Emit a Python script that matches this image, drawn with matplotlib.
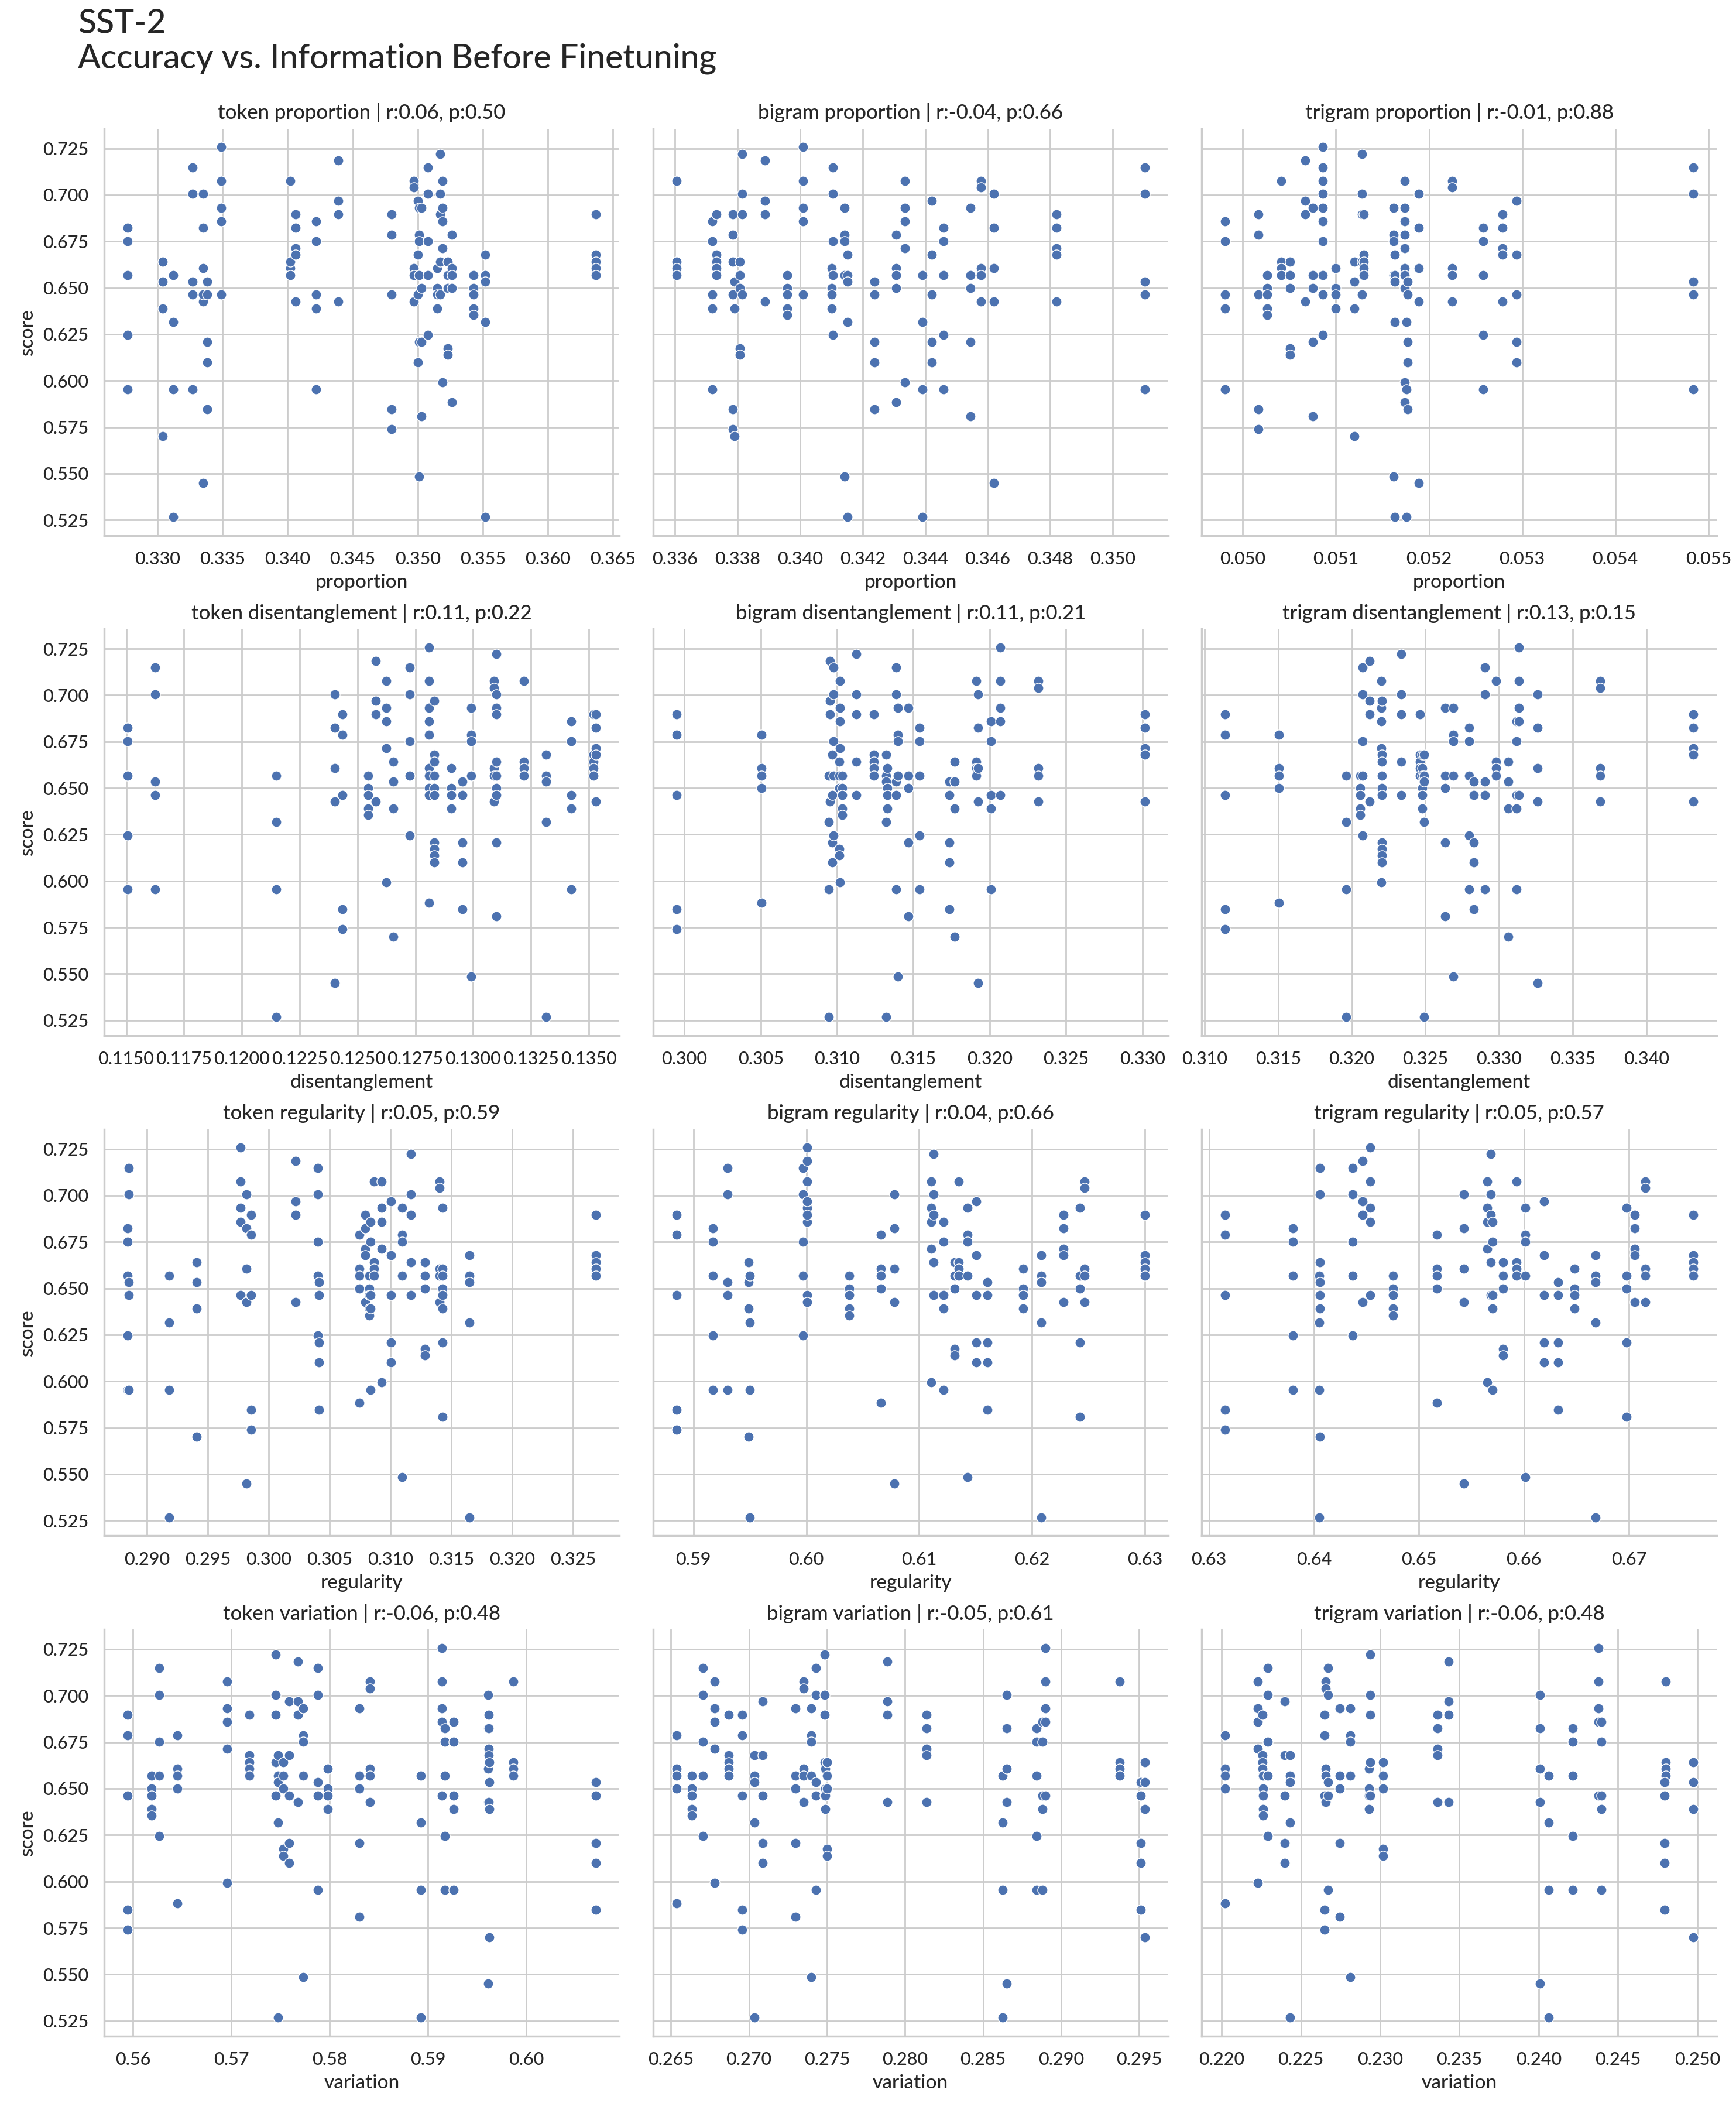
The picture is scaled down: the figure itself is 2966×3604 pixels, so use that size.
import matplotlib
matplotlib.use("Agg")
import matplotlib.pyplot as plt
import seaborn as sns

# columns of points: (x value, [scores at that x])
tok_prop = [
    (0.3277, [0.6824, 0.6752, 0.6568, 0.6246, 0.5954]),
    (0.3304, [0.6641, 0.6534, 0.6390, 0.5701]),
    (0.3312, [0.6568, 0.6317, 0.5954, 0.5267]),
    (0.3327, [0.7149, 0.7005, 0.6534, 0.6463, 0.5954]),
    (0.3335, [0.7005, 0.6824, 0.6606, 0.6427, 0.6463, 0.5450]),
    (0.3338, [0.6534, 0.6463, 0.6208, 0.6100, 0.5847]),
    (0.3349, [0.7257, 0.7076, 0.6932, 0.6859, 0.6463]),
    (0.3402, [0.7076, 0.6606, 0.6641, 0.6568]),
    (0.3406, [0.6897, 0.6824, 0.6714, 0.6679, 0.6427]),
    (0.3422, [0.6859, 0.6752, 0.6463, 0.6390, 0.5954]),
    (0.3439, [0.7185, 0.6969, 0.6897, 0.6427]),
    (0.3480, [0.6897, 0.6787, 0.6463, 0.5847, 0.5740]),
    (0.3497, [0.7076, 0.7040, 0.6606, 0.6568, 0.6427]),
    (0.3500, [0.6969, 0.6679, 0.6463, 0.6100]),
    (0.3501, [0.6932, 0.6787, 0.6752, 0.6568, 0.5485, 0.6208]),
    (0.3503, [0.6932, 0.6499, 0.6208, 0.5810]),
    (0.3508, [0.7149, 0.7005, 0.6752, 0.6568, 0.6246]),
    (0.3515, [0.6606, 0.6499, 0.6463, 0.6390]),
    (0.3517, [0.7222, 0.7005, 0.6897, 0.6641, 0.6463]),
    (0.3519, [0.7076, 0.6932, 0.6859, 0.6714, 0.5993]),
    (0.3523, [0.6641, 0.6568, 0.6499, 0.6174, 0.6139]),
    (0.3526, [0.6787, 0.6606, 0.6568, 0.6499, 0.5883]),
    (0.3543, [0.6568, 0.6499, 0.6463, 0.6390, 0.6354]),
    (0.3552, [0.6679, 0.6568, 0.6534, 0.6317, 0.5267]),
    (0.3637, [0.6897, 0.6679, 0.6641, 0.6606, 0.6568]),
]

bi_prop = [
    (0.33604, [0.7076, 0.6641, 0.6606, 0.6568]),
    (0.33720, [0.6859, 0.6752, 0.6463, 0.6390, 0.5954]),
    (0.33732, [0.6897, 0.6679, 0.6641, 0.6606, 0.6568]),
    (0.33785, [0.6897, 0.6787, 0.6641, 0.6463, 0.5847, 0.5740]),
    (0.33791, [0.6534, 0.6390, 0.5701]),
    (0.33807, [0.6641, 0.6568, 0.6499, 0.6174, 0.6139]),
    (0.33814, [0.7222, 0.7005, 0.6897, 0.6463]),
    (0.33888, [0.7185, 0.6969, 0.6897, 0.6427]),
    (0.33959, [0.6568, 0.6499, 0.6463, 0.6390, 0.6354]),
    (0.34010, [0.7257, 0.7076, 0.6932, 0.6859, 0.6463]),
    (0.34100, [0.6606, 0.6499, 0.6463, 0.6390]),
    (0.34105, [0.7149, 0.7005, 0.6752, 0.6568, 0.6246]),
    (0.34142, [0.6932, 0.6787, 0.6752, 0.6568, 0.5485]),
    (0.34152, [0.6679, 0.6568, 0.6534, 0.6317, 0.5267]),
    (0.34237, [0.6534, 0.6463, 0.6208, 0.6100, 0.5847]),
    (0.34307, [0.6787, 0.6606, 0.6568, 0.6499, 0.5883]),
    (0.34334, [0.7076, 0.6932, 0.6859, 0.6714, 0.5993]),
    (0.34391, [0.6568, 0.6317, 0.5954, 0.5267]),
    (0.34421, [0.6969, 0.6679, 0.6463, 0.6208, 0.6100]),
    (0.34459, [0.6824, 0.6752, 0.6568, 0.6246, 0.5954]),
    (0.34545, [0.6932, 0.6568, 0.6499, 0.6208, 0.5810]),
    (0.34579, [0.7076, 0.7040, 0.6606, 0.6568, 0.6427]),
    (0.34620, [0.7005, 0.6824, 0.6606, 0.6427, 0.5450]),
    (0.34819, [0.6897, 0.6824, 0.6714, 0.6679, 0.6427]),
    (0.35102, [0.7149, 0.7005, 0.6534, 0.6463, 0.5954]),
]

tri_prop = [
    (0.04981, [0.6859, 0.6752, 0.6463, 0.6390, 0.5954]),
    (0.05017, [0.6897, 0.6787, 0.6463, 0.5847, 0.5740]),
    (0.05026, [0.6568, 0.6499, 0.6463, 0.6390, 0.6354]),
    (0.05041, [0.7076, 0.6641, 0.6606, 0.6568]),
    (0.05051, [0.6641, 0.6568, 0.6499, 0.6174, 0.6139]),
    (0.05067, [0.7185, 0.6969, 0.6897, 0.6427]),
    (0.05075, [0.6932, 0.6568, 0.6499, 0.6208, 0.5810]),
    (0.05086, [0.7257, 0.7149, 0.7076, 0.7005, 0.6932, 0.6859, 0.6752, 0.6568, 0.6463, 0.6246]),
    (0.05100, [0.6606, 0.6499, 0.6463, 0.6390]),
    (0.05120, [0.6641, 0.6534, 0.6390, 0.5701]),
    (0.05128, [0.7222, 0.7005, 0.6897, 0.6641, 0.6463]),
    (0.05130, [0.6897, 0.6679, 0.6641, 0.6606, 0.6568]),
    (0.05162, [0.6932, 0.6787, 0.6752, 0.6568, 0.5485]),
    (0.05163, [0.6679, 0.6568, 0.6534, 0.6317, 0.5267]),
    (0.05174, [0.7076, 0.6932, 0.6859, 0.6787, 0.6714, 0.6606, 0.6568, 0.6499, 0.5993, 0.5883]),
    (0.05176, [0.6317, 0.5954, 0.5267]),
    (0.05177, [0.6534, 0.6463, 0.6208, 0.6100, 0.5847]),
    (0.05189, [0.7005, 0.6824, 0.6606, 0.6427, 0.5450]),
    (0.05225, [0.7076, 0.7040, 0.6606, 0.6568, 0.6427]),
    (0.05258, [0.6824, 0.6752, 0.6568, 0.6246, 0.5954]),
    (0.05279, [0.6897, 0.6824, 0.6714, 0.6679, 0.6427]),
    (0.05294, [0.6969, 0.6679, 0.6463, 0.6208, 0.6100]),
    (0.05484, [0.7149, 0.7005, 0.6534, 0.6463, 0.5954]),
]

tok_dis = [
    (0.11506, [0.6824, 0.6752, 0.6568, 0.6246, 0.5954]),
    (0.11625, [0.7149, 0.7005, 0.6534, 0.6463, 0.5954]),
    (0.12149, [0.6568, 0.6317, 0.5954, 0.5267]),
    (0.12401, [0.7005, 0.6824, 0.6606, 0.6427, 0.5450]),
    (0.12434, [0.6897, 0.6787, 0.6463, 0.5847, 0.5740]),
    (0.12545, [0.6568, 0.6499, 0.6463, 0.6390, 0.6354]),
    (0.12579, [0.7185, 0.6969, 0.6897, 0.6427]),
    (0.12624, [0.7076, 0.6932, 0.6859, 0.6714, 0.5993]),
    (0.12655, [0.6641, 0.6534, 0.6390, 0.5701]),
    (0.12726, [0.7149, 0.7005, 0.6752, 0.6568, 0.6246]),
    (0.12808, [0.7257, 0.7076, 0.6932, 0.6859, 0.6787, 0.6606, 0.6568, 0.6499, 0.6463, 0.5883]),
    (0.12832, [0.6969, 0.6679, 0.6641, 0.6568, 0.6499, 0.6463, 0.6208, 0.6174, 0.6139, 0.6100]),
    (0.12906, [0.6606, 0.6499, 0.6463, 0.6390]),
    (0.12954, [0.6534, 0.6463, 0.6208, 0.6100, 0.5847]),
    (0.12991, [0.6932, 0.6787, 0.6752, 0.6568, 0.5485]),
    (0.13091, [0.7076, 0.7040, 0.6606, 0.6568, 0.6427]),
    (0.13101, [0.7222, 0.7005, 0.6932, 0.6897, 0.6641, 0.6568, 0.6499, 0.6463, 0.6208, 0.5810]),
    (0.13218, [0.7076, 0.6641, 0.6606, 0.6568]),
    (0.13316, [0.6679, 0.6568, 0.6534, 0.6317, 0.5267]),
    (0.13423, [0.6859, 0.6752, 0.6463, 0.6390, 0.5954]),
    (0.13520, [0.6897, 0.6679, 0.6641, 0.6606, 0.6568]),
    (0.13531, [0.6897, 0.6824, 0.6714, 0.6679, 0.6427]),
]

bi_dis = [
    (0.29947, [0.6897, 0.6787, 0.6463, 0.5847, 0.5740]),
    (0.30506, [0.6787, 0.6606, 0.6568, 0.6499, 0.5883]),
    (0.30945, [0.6568, 0.6317, 0.5954, 0.5267]),
    (0.30954, [0.7185, 0.6969, 0.6897, 0.6427]),
    (0.30970, [0.6679, 0.6463, 0.6208, 0.6100]),
    (0.30975, [0.7149, 0.7005, 0.6752, 0.6568, 0.6246]),
    (0.31020, [0.7076, 0.6932, 0.6859, 0.6714, 0.5993]),
    (0.31014, [0.6641, 0.6568, 0.6499, 0.6174, 0.6139]),
    (0.31036, [0.6568, 0.6499, 0.6463, 0.6390, 0.6354]),
    (0.31126, [0.7222, 0.7005, 0.6897, 0.6641, 0.6463]),
    (0.31242, [0.6897, 0.6679, 0.6641, 0.6606, 0.6568]),
    (0.31320, [0.6679, 0.6568, 0.6534, 0.6317, 0.5267]),
    (0.31329, [0.6606, 0.6499, 0.6463, 0.6390]),
    (0.31387, [0.7149, 0.7005, 0.6534, 0.6463, 0.5954]),
    (0.31398, [0.6932, 0.6787, 0.6752, 0.6568, 0.5485]),
    (0.31469, [0.6932, 0.6568, 0.6499, 0.6208, 0.5810]),
    (0.31542, [0.6824, 0.6752, 0.6568, 0.6246, 0.5954]),
    (0.31737, [0.6534, 0.6463, 0.6208, 0.6100, 0.5847]),
    (0.31771, [0.6641, 0.6534, 0.6390, 0.5701]),
    (0.31913, [0.7076, 0.6641, 0.6606, 0.6568]),
    (0.31922, [0.7005, 0.6824, 0.6606, 0.6427, 0.5450]),
    (0.32007, [0.6859, 0.6752, 0.6463, 0.6390, 0.5954]),
    (0.32071, [0.7257, 0.7076, 0.6932, 0.6859, 0.6463]),
    (0.32318, [0.7076, 0.7040, 0.6606, 0.6568, 0.6427]),
    (0.33016, [0.6897, 0.6824, 0.6714, 0.6679, 0.6427]),
]

tri_dis = [
    (0.31139, [0.6897, 0.6787, 0.6463, 0.5847, 0.5740]),
    (0.31505, [0.6787, 0.6606, 0.6568, 0.6499, 0.5883]),
    (0.31963, [0.6568, 0.6317, 0.5954, 0.5267]),
    (0.32056, [0.6568, 0.6499, 0.6463, 0.6390, 0.6354]),
    (0.32072, [0.7149, 0.7005, 0.6752, 0.6568, 0.6246]),
    (0.32120, [0.7185, 0.6969, 0.6897, 0.6427]),
    (0.32200, [0.7076, 0.6932, 0.6859, 0.6714, 0.5993]),
    (0.32205, [0.6969, 0.6679, 0.6641, 0.6568, 0.6499, 0.6463, 0.6208, 0.6174, 0.6139, 0.6100]),
    (0.32336, [0.7222, 0.7005, 0.6897, 0.6641, 0.6463]),
    (0.32461, [0.6897, 0.6679, 0.6641, 0.6606, 0.6568]),
    (0.32480, [0.6679, 0.6606, 0.6568, 0.6499, 0.6463, 0.6390]),
    (0.32490, [0.6679, 0.6568, 0.6534, 0.6317, 0.5267]),
    (0.32635, [0.6932, 0.6568, 0.6499, 0.6208, 0.5810]),
    (0.32687, [0.6932, 0.6787, 0.6752, 0.6568, 0.5485]),
    (0.32796, [0.6824, 0.6752, 0.6568, 0.6246, 0.5954]),
    (0.32830, [0.6534, 0.6463, 0.6208, 0.6100, 0.5847]),
    (0.32905, [0.7149, 0.7005, 0.6534, 0.6463, 0.5954]),
    (0.32979, [0.7076, 0.6641, 0.6606, 0.6568]),
    (0.33064, [0.6641, 0.6534, 0.6390, 0.5701]),
    (0.33117, [0.6859, 0.6752, 0.6463, 0.6390, 0.5954]),
    (0.33136, [0.7257, 0.7076, 0.6932, 0.6859, 0.6463]),
    (0.33261, [0.7005, 0.6824, 0.6606, 0.6427, 0.5450]),
    (0.33686, [0.7076, 0.7040, 0.6606, 0.6568, 0.6427]),
    (0.34320, [0.6897, 0.6824, 0.6714, 0.6679, 0.6427]),
]

tok_reg = [
    (0.28842, [0.6824, 0.6752, 0.6568, 0.6246, 0.5954]),
    (0.28851, [0.7149, 0.7005, 0.6534, 0.6463, 0.5954]),
    (0.29185, [0.6568, 0.6317, 0.5954, 0.5267]),
    (0.29410, [0.6641, 0.6534, 0.6390, 0.5701]),
    (0.29770, [0.7257, 0.7076, 0.6932, 0.6859, 0.6463]),
    (0.29820, [0.7005, 0.6824, 0.6606, 0.6427, 0.5450]),
    (0.29858, [0.6897, 0.6787, 0.6463, 0.5847, 0.5740]),
    (0.30221, [0.7185, 0.6969, 0.6897, 0.6427]),
    (0.30406, [0.7149, 0.7005, 0.6752, 0.6568, 0.6246]),
    (0.30412, [0.6534, 0.6463, 0.6208, 0.6100, 0.5847]),
    (0.30743, [0.6787, 0.6606, 0.6568, 0.6499, 0.5883]),
    (0.30793, [0.6897, 0.6824, 0.6714, 0.6679, 0.6427]),
    (0.30828, [0.6568, 0.6499, 0.6463, 0.6390, 0.6354]),
    (0.30836, [0.6859, 0.6752, 0.6463, 0.6390, 0.5954]),
    (0.30863, [0.7076, 0.6641, 0.6606, 0.6568]),
    (0.30927, [0.7076, 0.6932, 0.6859, 0.6714, 0.5993]),
    (0.31006, [0.6969, 0.6679, 0.6463, 0.6208, 0.6100]),
    (0.31097, [0.6932, 0.6787, 0.6752, 0.6568, 0.5485]),
    (0.31167, [0.7222, 0.7005, 0.6897, 0.6641, 0.6463]),
    (0.31285, [0.6641, 0.6568, 0.6499, 0.6174, 0.6139]),
    (0.31402, [0.7076, 0.7040, 0.6606, 0.6568, 0.6427]),
    (0.31428, [0.6932, 0.6606, 0.6568, 0.6499, 0.6463, 0.6390, 0.6208, 0.5810]),
    (0.31648, [0.6679, 0.6568, 0.6534, 0.6317, 0.5267]),
    (0.32688, [0.6897, 0.6679, 0.6641, 0.6606, 0.6568]),
]

bi_reg = [
    (0.58848, [0.6897, 0.6787, 0.6463, 0.5847, 0.5740]),
    (0.59170, [0.6824, 0.6752, 0.6568, 0.6246, 0.5954]),
    (0.59300, [0.7149, 0.7005, 0.6534, 0.6463, 0.5954]),
    (0.59490, [0.6641, 0.6534, 0.6390, 0.5701]),
    (0.59500, [0.6568, 0.6317, 0.5954, 0.5267]),
    (0.59969, [0.7149, 0.7005, 0.6752, 0.6568, 0.6246]),
    (0.60010, [0.7257, 0.7076, 0.6932, 0.6859, 0.6463]),
    (0.60005, [0.7185, 0.6969, 0.6897, 0.6427]),
    (0.60381, [0.6568, 0.6499, 0.6463, 0.6390, 0.6354]),
    (0.60660, [0.6787, 0.6606, 0.6568, 0.6499, 0.5883]),
    (0.60783, [0.7005, 0.6824, 0.6606, 0.6427, 0.5450]),
    (0.61105, [0.7076, 0.6932, 0.6859, 0.6714, 0.5993]),
    (0.61130, [0.7222, 0.7005, 0.6897, 0.6641, 0.6463]),
    (0.61217, [0.6859, 0.6752, 0.6463, 0.6390, 0.5954]),
    (0.61313, [0.6641, 0.6568, 0.6499, 0.6174, 0.6139]),
    (0.61353, [0.7076, 0.6641, 0.6606, 0.6568]),
    (0.61430, [0.6932, 0.6787, 0.6752, 0.6568, 0.5485]),
    (0.61505, [0.6969, 0.6679, 0.6463, 0.6208, 0.6100]),
    (0.61607, [0.6534, 0.6463, 0.6208, 0.6100, 0.5847]),
    (0.61920, [0.6606, 0.6499, 0.6463, 0.6390]),
    (0.62084, [0.6679, 0.6568, 0.6534, 0.6317, 0.5267]),
    (0.62279, [0.6897, 0.6824, 0.6714, 0.6679, 0.6427]),
    (0.62424, [0.6932, 0.6568, 0.6499, 0.6208, 0.5810]),
    (0.62464, [0.7076, 0.7040, 0.6606, 0.6568, 0.6427]),
    (0.63000, [0.6897, 0.6679, 0.6641, 0.6606, 0.6568]),
]

tri_reg = [
    (0.63153, [0.6897, 0.6787, 0.6463, 0.5847, 0.5740]),
    (0.63799, [0.6824, 0.6752, 0.6568, 0.6246, 0.5954]),
    (0.64052, [0.6568, 0.6317, 0.5954, 0.5267]),
    (0.64058, [0.7149, 0.7005, 0.6641, 0.6534, 0.6463, 0.6390, 0.5701]),
    (0.64371, [0.7149, 0.7005, 0.6752, 0.6568, 0.6246]),
    (0.64464, [0.7185, 0.6969, 0.6897, 0.6427]),
    (0.64534, [0.7257, 0.7076, 0.6932, 0.6859, 0.6463]),
    (0.64754, [0.6568, 0.6499, 0.6463, 0.6390, 0.6354]),
    (0.65170, [0.6787, 0.6606, 0.6568, 0.6499, 0.5883]),
    (0.65426, [0.7005, 0.6824, 0.6606, 0.6427, 0.5450]),
    (0.65652, [0.7076, 0.6932, 0.6859, 0.6714, 0.5993]),
    (0.65682, [0.7222, 0.7005, 0.6897, 0.6641, 0.6463]),
    (0.65702, [0.6859, 0.6752, 0.6463, 0.6390, 0.5954]),
    (0.65799, [0.6641, 0.6568, 0.6499, 0.6174, 0.6139]),
    (0.65929, [0.7076, 0.6641, 0.6606, 0.6568]),
    (0.66015, [0.6932, 0.6787, 0.6752, 0.6568, 0.5485]),
    (0.66192, [0.6969, 0.6679, 0.6463, 0.6208, 0.6100]),
    (0.66328, [0.6534, 0.6463, 0.6208, 0.6100, 0.5847]),
    (0.66481, [0.6606, 0.6499, 0.6463, 0.6390]),
    (0.66684, [0.6679, 0.6568, 0.6534, 0.6317, 0.5267]),
    (0.66980, [0.6932, 0.6568, 0.6499, 0.6208, 0.5810]),
    (0.67054, [0.6897, 0.6824, 0.6714, 0.6679, 0.6427]),
    (0.67157, [0.7076, 0.7040, 0.6606, 0.6568, 0.6427]),
    (0.67616, [0.6897, 0.6679, 0.6641, 0.6606, 0.6568]),
]

tok_var = [
    (0.55946, [0.6897, 0.6787, 0.6463, 0.5847, 0.5740]),
    (0.56189, [0.6568, 0.6499, 0.6463, 0.6390, 0.6354]),
    (0.56268, [0.7149, 0.7005, 0.6752, 0.6568, 0.6246]),
    (0.56450, [0.6787, 0.6606, 0.6568, 0.6499, 0.5883]),
    (0.56958, [0.7076, 0.6932, 0.6859, 0.6714, 0.5993]),
    (0.57186, [0.6897, 0.6679, 0.6641, 0.6606, 0.6568]),
    (0.57451, [0.7222, 0.7005, 0.6897, 0.6641, 0.6463]),
    (0.57473, [0.6679, 0.6568, 0.6534, 0.6317, 0.5267]),
    (0.57531, [0.6641, 0.6568, 0.6499, 0.6174, 0.6139]),
    (0.57589, [0.6969, 0.6679, 0.6463, 0.6208, 0.6100]),
    (0.57676, [0.7185, 0.6969, 0.6897, 0.6427]),
    (0.57730, [0.6932, 0.6787, 0.6752, 0.6568, 0.5485]),
    (0.57882, [0.7149, 0.7005, 0.6534, 0.6463, 0.5954]),
    (0.57980, [0.6606, 0.6499, 0.6463, 0.6390]),
    (0.58300, [0.6932, 0.6568, 0.6499, 0.6208, 0.5810]),
    (0.58408, [0.7076, 0.7040, 0.6606, 0.6568, 0.6427]),
    (0.58927, [0.6568, 0.6317, 0.5954, 0.5267]),
    (0.59141, [0.7257, 0.7076, 0.6932, 0.6859, 0.6463]),
    (0.59170, [0.6824, 0.6752, 0.6568, 0.6246, 0.5954]),
    (0.59261, [0.6859, 0.6752, 0.6463, 0.6390, 0.5954]),
    (0.59613, [0.7005, 0.6824, 0.6606, 0.6427, 0.5450]),
    (0.59620, [0.6897, 0.6824, 0.6714, 0.6679, 0.6427]),
    (0.59625, [0.6641, 0.6534, 0.6390, 0.5701]),
    (0.59866, [0.7076, 0.6641, 0.6606, 0.6568]),
    (0.60708, [0.6534, 0.6463, 0.6208, 0.6100, 0.5847]),
]

bi_var = [
    (0.26534, [0.6787, 0.6606, 0.6568, 0.6499, 0.5883]),
    (0.26634, [0.6568, 0.6499, 0.6463, 0.6390, 0.6354]),
    (0.26704, [0.7149, 0.7005, 0.6752, 0.6568, 0.6246]),
    (0.26778, [0.7076, 0.6932, 0.6859, 0.6714, 0.5993]),
    (0.26869, [0.6897, 0.6679, 0.6641, 0.6606, 0.6568]),
    (0.26955, [0.6897, 0.6787, 0.6463, 0.5847, 0.5740]),
    (0.27033, [0.6679, 0.6568, 0.6534, 0.6317, 0.5267]),
    (0.27089, [0.6969, 0.6679, 0.6463, 0.6208, 0.6100]),
    (0.27297, [0.6932, 0.6568, 0.6499, 0.6208, 0.5810]),
    (0.27351, [0.7076, 0.7040, 0.6606, 0.6568, 0.6427]),
    (0.27400, [0.6932, 0.6787, 0.6752, 0.6568, 0.5485]),
    (0.27429, [0.7149, 0.7005, 0.6534, 0.6463, 0.5954]),
    (0.27483, [0.7222, 0.7005, 0.6897, 0.6641, 0.6463]),
    (0.27490, [0.6606, 0.6499, 0.6463, 0.6390]),
    (0.27500, [0.6641, 0.6568, 0.6499, 0.6174, 0.6139]),
    (0.27886, [0.7185, 0.6969, 0.6897, 0.6427]),
    (0.28137, [0.6897, 0.6824, 0.6714, 0.6679, 0.6427]),
    (0.28625, [0.6568, 0.6317, 0.5954, 0.5267]),
    (0.28652, [0.7005, 0.6824, 0.6606, 0.6427, 0.5450]),
    (0.28842, [0.6824, 0.6752, 0.6568, 0.6246, 0.5954]),
    (0.28882, [0.6859, 0.6752, 0.6463, 0.6390, 0.5954]),
    (0.28900, [0.7257, 0.7076, 0.6932, 0.6859, 0.6463]),
    (0.29377, [0.7076, 0.6641, 0.6606, 0.6568]),
    (0.29510, [0.6534, 0.6463, 0.6208, 0.6100, 0.5847]),
    (0.29536, [0.6641, 0.6534, 0.6390, 0.5701]),
]

tri_var = [
    (0.22022, [0.6787, 0.6606, 0.6568, 0.6499, 0.5883]),
    (0.22229, [0.7076, 0.6932, 0.6859, 0.6714, 0.5993]),
    (0.22258, [0.6897, 0.6679, 0.6641, 0.6606, 0.6568]),
    (0.22262, [0.6568, 0.6499, 0.6463, 0.6390, 0.6354]),
    (0.22291, [0.7149, 0.7005, 0.6752, 0.6568, 0.6246]),
    (0.22397, [0.6969, 0.6679, 0.6463, 0.6208, 0.6100]),
    (0.22430, [0.6679, 0.6568, 0.6534, 0.6317, 0.5267]),
    (0.22650, [0.6897, 0.6787, 0.6463, 0.5847, 0.5740]),
    (0.22656, [0.7076, 0.7040, 0.6606, 0.6568, 0.6427]),
    (0.22670, [0.7149, 0.7005, 0.6534, 0.6463, 0.5954]),
    (0.22747, [0.6932, 0.6568, 0.6499, 0.6208, 0.5810]),
    (0.22813, [0.6932, 0.6787, 0.6752, 0.6568, 0.5485]),
    (0.22930, [0.6606, 0.6499, 0.6463, 0.6390]),
    (0.22936, [0.7222, 0.7005, 0.6897, 0.6641, 0.6463]),
    (0.23018, [0.6641, 0.6568, 0.6499, 0.6174, 0.6139]),
    (0.23361, [0.6897, 0.6824, 0.6714, 0.6679, 0.6427]),
    (0.23432, [0.7185, 0.6969, 0.6897, 0.6427]),
    (0.24009, [0.7005, 0.6824, 0.6606, 0.6427, 0.5450]),
    (0.24064, [0.6568, 0.6317, 0.5954, 0.5267]),
    (0.24214, [0.6824, 0.6752, 0.6568, 0.6246, 0.5954]),
    (0.24377, [0.7257, 0.7076, 0.6932, 0.6859, 0.6463]),
    (0.24395, [0.6859, 0.6752, 0.6463, 0.6390, 0.5954]),
    (0.24802, [0.7076, 0.6641, 0.6606, 0.6568]),
    (0.24793, [0.6534, 0.6463, 0.6208, 0.6100, 0.5847]),
    (0.24976, [0.6641, 0.6534, 0.6390, 0.5701]),
]

titles = [
    "token proportion | r:0.06, p:0.50", "bigram proportion | r:-0.04, p:0.66", "trigram proportion | r:-0.01, p:0.88",
    "token disentanglement | r:0.11, p:0.22", "bigram disentanglement | r:0.11, p:0.21", "trigram disentanglement | r:0.13, p:0.15",
    "token regularity | r:0.05, p:0.59", "bigram regularity | r:0.04, p:0.66", "trigram regularity | r:0.05, p:0.57",
    "token variation | r:-0.06, p:0.48", "bigram variation | r:-0.05, p:0.61", "trigram variation | r:-0.06, p:0.48",
]
row_labels = ["proportion", "disentanglement", "regularity", "variation"]

x_ticks = [
    [0.330, 0.335, 0.340, 0.345, 0.350, 0.355, 0.360, 0.365],
    [0.336, 0.338, 0.340, 0.342, 0.344, 0.346, 0.348, 0.350],
    [0.050, 0.051, 0.052, 0.053, 0.054, 0.055],
    [0.1150, 0.1175, 0.1200, 0.1225, 0.1250, 0.1275, 0.1300, 0.1325, 0.1350],
    [0.300, 0.305, 0.310, 0.315, 0.320, 0.325, 0.330],
    [0.310, 0.315, 0.320, 0.325, 0.330, 0.335, 0.340],
    [0.290, 0.295, 0.300, 0.305, 0.310, 0.315, 0.320, 0.325],
    [0.59, 0.60, 0.61, 0.62, 0.63],
    [0.63, 0.64, 0.65, 0.66, 0.67],
    [0.56, 0.57, 0.58, 0.59, 0.60],
    [0.265, 0.270, 0.275, 0.280, 0.285, 0.290, 0.295],
    [0.220, 0.225, 0.230, 0.235, 0.240, 0.245, 0.250],
]
score_ticks = [0.525, 0.550, 0.575, 0.600, 0.625, 0.650, 0.675, 0.700, 0.725]

panels = [tok_prop, bi_prop, tri_prop, tok_dis, bi_dis, tri_dis,
          tok_reg, bi_reg, tri_reg, tok_var, bi_var, tri_var]


def flatten(cols):
    xs = [x for x, ys in cols for _ in ys]
    ys = [y for _, ys in cols for y in ys]
    return xs, ys


sns.set_theme(style="whitegrid")
plt.rcParams['font.family'] = ['Lato', 'DejaVu Sans']
plt.rcParams['font.weight'] = 'medium'
plt.rcParams['axes.titleweight'] = 'medium'
plt.rcParams['axes.labelweight'] = 'medium'

fig, axes = plt.subplots(4, 3, sharey=True, figsize=(14.83, 18.02), dpi=200)
fig.subplots_adjust(left=0.060, right=0.989, top=0.939, bottom=0.035, wspace=0.065, hspace=0.23)

for i, ax in enumerate(axes.flat):
    xs, ys = flatten(panels[i])
    sns.scatterplot(x=xs, y=ys, ax=ax, color="#4c72b0", s=38)
    ax.set_xticks(x_ticks[i])
    ax.set_title(titles[i], fontsize=12.5)
    ax.set_xlabel(row_labels[i // 3], fontsize=12)
    if i % 3 == 0:
        ax.set_ylabel("score", fontsize=12)
    ax.tick_params(labelsize=11)
    sns.despine(ax=ax)

axes[0, 0].set_yticks(score_ticks)

fig.text(0.045, 0.996, "SST-2\nAccuracy vs. Information Before Finetuning",
         ha="left", va="top", fontsize=20.5, linespacing=1.15, fontweight="medium")

fig.savefig("out.png", dpi=200)
